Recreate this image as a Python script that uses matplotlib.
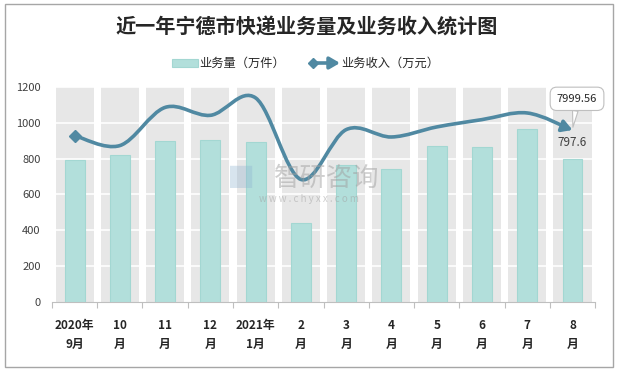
import matplotlib
matplotlib.use("Agg")
import matplotlib.pyplot as plt
from matplotlib.path import Path
from matplotlib.patches import FancyArrowPatch, Rectangle
from matplotlib.lines import Line2D
import numpy as np

plt.rcParams['font.family'] = ['Noto Sans CJK SC', 'DejaVu Sans']

months = ["2020年\n9月", "10\n月", "11\n月", "12\n月", "2021年\n1月", "2\n月",
          "3\n月", "4\n月", "5\n月", "6\n月", "7\n月", "8\n月"]
volume = [792, 821, 899, 905, 893, 442, 765, 743, 871, 866, 966, 797.6]        # 万件
revenue = [7742, 7275, 9050, 8683, 9492, 5700, 8017, 7675, 8142, 8483, 8792, 7999.56]  # 万元
legend_labels = ["业务量（万件）", "业务收入（万元）"]

bar_color = "#b2dfdb"
line_color = "#5089a2"
W, H = 618, 371

fig = plt.figure(figsize=(6.18, 3.71), dpi=100)
ax = fig.add_axes([0.084, 0.186, 0.879, 0.5795])
x = np.arange(len(months))

# grey column bands + teal bars
ax.bar(x, [1200] * len(x), width=0.84, color="#e7e7e7", zorder=1)
for yv in range(200, 1201, 200):
    ax.axhline(yv, color="white", lw=1.2, zorder=2)
ax.bar(x, volume, width=0.44, color=bar_color, edgecolor="#a3d7d2", lw=0.8, zorder=3)

ax.set_xlim(-0.5, len(x) - 0.5)
ax.set_ylim(0, 1200)
ax.set_yticks(range(0, 1201, 200))
ax.tick_params(axis="y", length=0, labelsize=8, labelcolor="#404040", pad=8)
ax.set_xticks(np.arange(-0.5, len(x), 1))
ax.set_xticklabels([])
ax.tick_params(axis="x", length=4, color="#bfbfbf", width=0.8)
for s in ["top", "right", "left"]:
    ax.spines[s].set_visible(False)
ax.spines["bottom"].set_color("#bfbfbf")
for i, lab in enumerate(months):
    ax.text(i, -95, lab, ha="center", va="top", fontsize=8.5, fontweight="bold",
            color="#262626", linespacing=1.6)

# revenue on hidden secondary axis, smoothed
ax2 = ax.twinx()
ax2.set_ylim(0, 10000)
ax2.axis("off")
pts = np.column_stack([x, revenue]).astype(float)
verts = [pts[0]]
codes = [Path.MOVETO]
n = len(pts)
for i in range(n - 1):
    p0 = pts[max(i - 1, 0)]
    p1 = pts[i]
    p2 = pts[i + 1]
    p3 = pts[min(i + 2, n - 1)]
    c1 = p1 + (p2 - p0) / 6.0
    c2 = p2 - (p3 - p1) / 6.0
    verts += [c1, c2, p2]
    codes += [Path.CURVE4] * 3
curve = FancyArrowPatch(path=Path(verts, codes), arrowstyle="-|>,head_length=0.6,head_width=0.35",
                        mutation_scale=10, color=line_color, lw=2.6, shrinkA=0, shrinkB=0,
                        transform=ax2.transData, zorder=5)
ax2.add_patch(curve)
ax2.plot(x[0], revenue[0], marker="D", ms=6, color=line_color, zorder=6)

# labels on last point
ax2.annotate(f"{revenue[-1]:.2f}", xy=(x[-1], revenue[-1]), xytext=(x[-1] + 0.1, 9450),
             ha="center", va="center", fontsize=8, color="#262626",
             bbox=dict(boxstyle="round,pad=0.6", fc="white", ec="#bfbfbf", lw=0.8),
             arrowprops=dict(arrowstyle="wedge,tail_width=0.5", fc="white", ec="#bfbfbf",
                             lw=0.8, shrinkA=0, shrinkB=2),
             annotation_clip=False, zorder=7)
ax.text(x[-1], volume[-1] + 55, f"{volume[-1]}", ha="center", va="bottom",
        fontsize=8.5, color="#404040", zorder=7)

# watermark
fig.text(0.528, 0.52, "智研咨询", ha="center", va="center", fontsize=19,
         color="#a0a0a0", alpha=0.5)
fig.text(0.50, 0.464, "w w w . c h y x x . c o m", ha="center", va="center",
         fontsize=7, color="#a0a0a0", alpha=0.5)
fig.text(0.39, 0.52, "█", ha="center", va="center", fontsize=16,
         color="#8fb3d0", alpha=0.35)

# title
fig.text(307 / W, 1 - 27 / H, "近一年宁德市快递业务量及业务收入统计图", ha="center", va="center",
         fontsize=14.5, fontweight="bold", color="#262626")

# legend drawn by hand (diamond start / arrow end like the source)
ly = 1 - 63 / H
fig.add_artist(Rectangle((172 / W, ly - 4 / H), 26 / W, 8 / H, transform=fig.transFigure,
                         fc=bar_color, ec="#a3d7d2", lw=0.8))
fig.text(199 / W, ly, legend_labels[0], ha="left", va="center", fontsize=8.8, color="#262626")
fig.add_artist(FancyArrowPatch((313 / W, ly), (340 / W, ly), transform=fig.transFigure,
                               arrowstyle="-|>,head_length=0.6,head_width=0.35",
                               mutation_scale=10, color=line_color, lw=2.6,
                               shrinkA=0, shrinkB=0))
fig.add_artist(Line2D([313 / W], [ly], transform=fig.transFigure, marker="D", ms=5.5,
                      color=line_color))
fig.text(341 / W, ly, legend_labels[1], ha="left", va="center", fontsize=8.8, color="#262626")

fig.add_artist(Rectangle((0.008, 0.01), 0.984, 0.98, transform=fig.transFigure,
                         fill=False, ec="#a6a6a6", lw=1))

fig.savefig("out.png", dpi=100)
